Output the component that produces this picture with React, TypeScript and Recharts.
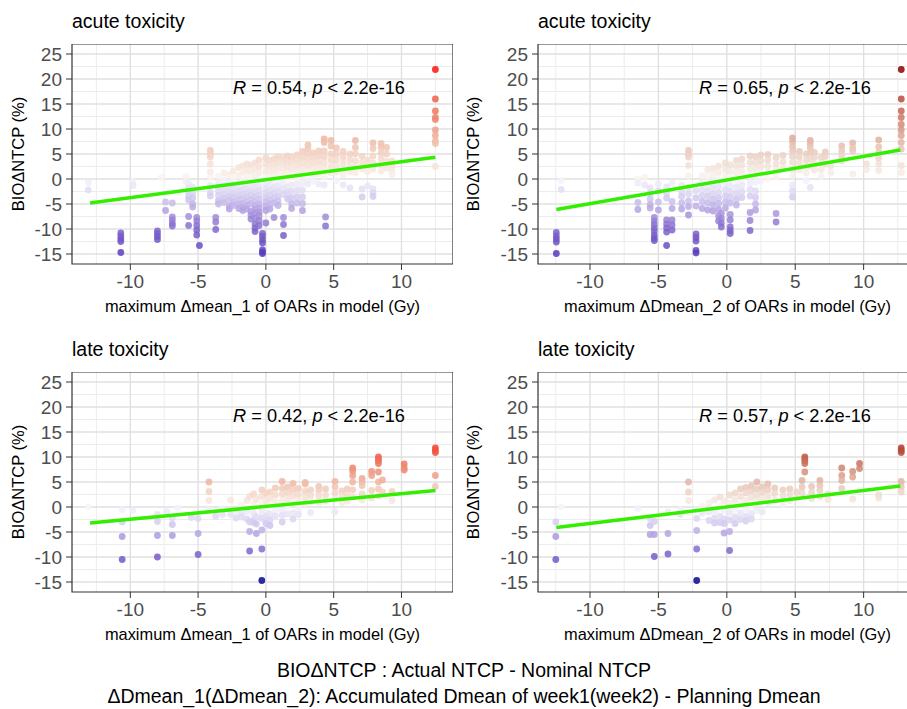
import React from "react";
import { ScatterChart, Scatter, XAxis, YAxis, CartesianGrid, ReferenceArea } from "recharts";

// each column: [x, list of y values at that x]
type Col = [number, number[]];

const X_TICKS = [-10, -5, 0, 5, 10];
const X_MINOR = [-12.5, -7.5, -2.5, 2.5, 7.5, 12.5];
const Y_TICKS = [-15, -10, -5, 0, 5, 10, 15, 20, 25];
const Y_MINOR = [-12.5, -7.5, -2.5, 2.5, 7.5, 12.5, 17.5, 22.5];
const Y_DOMAIN: [number, number] = [-17, 27];

const ACUTE_1: Col[] = [
  [-13.1, [-0.7, -2.2]],
  [-10.7, [-10.8, -11.4, -12.0, -12.5, -14.7]],
  [-9.8, [-0.5, -1.3]],
  [-8.0, [-10.4, -10.9, -11.5, -12.1]],
  [-7.7, [0.3]],
  [-7.4, [-4.6, -6.3]],
  [-6.9, [-4.8, -7.6, -8.2, -8.9, -9.4]],
  [-5.9, [0.5, -0.5]],
  [-5.7, [-1.0, -1.8, -2.6, -3.4, -4.2, -7.5, -9.3]],
  [-5.4, [-1.6, -2.8, -3.8, -5.0, -5.6]],
  [-5.1, [-7.7, -8.4, -9.3, -10.2, -11.2]],
  [-4.9, [-13.3]],
  [-4.1, [5.7, 5.0, 4.4, 3.0, 1.4, 0.3, -1.3, -2.7, -3.4]],
  [-3.7, [-7.7, -8.6, -10.1]],
  [-3.5, [0.5, -0.8, -1.6, -2.4, -3.3, -4.4, -5.0]],
  [-3.1, [1.2, -0.3, -1.4, -2.2, -3.0, -3.9, -4.7]],
  [-2.7, [0.9, -0.6, -1.8, -2.6, -3.5, -4.3, -5.5, -6.0]],
  [-2.4, [1.6, 0.2, -1.2, -2.0, -2.9, -3.7, -4.6, -5.3]],
  [-2.0, [2.3, 0.7, -0.8, -1.7, -2.5, -3.4, -4.2, -5.0, -5.9]],
  [-1.7, [2.6, 1.4, -0.4, -1.3, -2.2, -3.1, -4.0, -4.9, -5.7, -6.3]],
  [-1.4, [3.0, 1.8, 0.5, -1.0, -1.9, -2.8, -3.6, -4.5, -5.3, -6.0]],
  [-1.1, [2.8, 1.5, 0.2, -1.3, -2.4, -3.2, -4.1, -5.0, -6.5, -7.2, -8.0]],
  [-0.8, [3.2, 2.0, 0.8, -0.6, -1.7, -2.6, -3.5, -4.4, -5.3, -6.1, -6.8, -7.8, -9.0, -9.8, -10.5]],
  [-0.5, [3.8, 2.5, 1.2, -0.2, -1.4, -2.3, -3.2, -4.1, -5.0, -5.8, -6.6, -7.3, -8.3, -9.3]],
  [-0.25, [-10.9, -11.5, -12.2, -12.8, -14.2, -14.6, -14.9]],
  [0.0, [4.2, 3.0, 1.6, 0.4, -0.9, -1.9, -2.8, -3.7, -4.6, -5.5, -6.3, -8.8]],
  [0.3, [3.7, 2.6, 1.3, 0.0, -1.2, -2.2, -3.2, -4.2, -5.0, -6.0]],
  [0.6, [4.0, 2.9, 1.8, 0.6, -0.6, -1.8, -2.8, -3.8, -4.8, -7.7]],
  [0.9, [4.4, 3.3, 2.1, 0.9, -0.4, -1.5, -2.5, -3.5, -4.4, -5.3]],
  [1.3, [4.2, 3.1, 2.0, 0.8, -0.8, -2.0, -3.1, -7.7, -9.1, -11.3]],
  [1.6, [4.6, 3.5, 2.4, 1.2, 0.0, -1.6, -2.8, -4.0]],
  [1.9, [4.3, 3.2, 2.0, 0.5, -1.2, -2.5, -3.8, -5.0, -5.9]],
  [2.3, [4.8, 3.7, 2.6, 1.4, 0.2, -1.0, -2.3, -3.6, -4.8]],
  [2.7, [5.5, 4.3, 3.1, 1.9, 0.6, -0.8, -2.2, -3.6, -4.9, -6.3]],
  [3.1, [6.8, 6.0, 4.9, 3.8, 2.6, 1.3, -0.2, -1.0]],
  [3.5, [5.2, 4.2, 3.1, 2.0, 0.8, -0.4]],
  [3.9, [5.6, 4.6, 3.4, 2.2, 1.0, -1.0]],
  [4.3, [8.0, 7.3, 5.6, 4.4, 3.2, 1.9, 0.4, -1.2]],
  [4.4, [-7.6, -9.4]],
  [4.8, [7.7, 6.6, 5.0, 3.8, 2.5, 1.2]],
  [5.2, [6.2, 5.0, 3.8, 2.6, 1.4, -0.3]],
  [5.7, [5.5, 4.4, 3.2, 2.0, 0.8, -1.2]],
  [6.2, [5.0, 3.8, 2.6, 1.4, -1.8]],
  [6.6, [7.7, 6.3, 5.0, 3.6, 2.4, 1.3]],
  [7.1, [4.5, 3.2, 2.0, -2.0, -3.6]],
  [7.5, [3.8, 2.6, 1.5, -1.4]],
  [7.9, [7.2, 6.1, 4.6, 3.2, 2.0, -2.0, -2.8, -3.5]],
  [8.5, [7.1, 6.3, 5.2, 4.0, 2.8, 1.6]],
  [8.9, [6.3, 5.0, 3.5, 2.2]],
  [9.3, [3.6, 2.6, 1.6, 0.9]],
  [12.5, [21.9, 16.0, 13.6, 12.3, 11.9, 9.8, 8.7, 7.6, 7.1, 2.5]],
];

const ACUTE_2: Col[] = [
  [-12.46, [-10.7, -11.4, -12.0, -12.6, -14.9]],
  [-12.1, [-0.3, -2.1]],
  [-6.5, [0.0, -0.8, -4.7, -6.1]],
  [-6.0, [0.3, -1.2]],
  [-5.6, [-1.8, -2.9, -4.0, -5.1, -5.8]],
  [-5.3, [-7.7, -8.4, -9.1, -9.8, -10.4, -11.2, -11.8, -12.3]],
  [-5.0, [-1.0, -2.4, -4.6, -6.2]],
  [-4.4, [-1.6, -2.8, -3.8, -8.2, -9.0, -9.8, -10.6, -13.3]],
  [-4.0, [-0.8, -4.5, -5.9, -8.2, -9.2, -10.2]],
  [-3.3, [-1.3, -2.6, -3.5, -4.8, -6.0]],
  [-2.8, [5.7, 5.0, 4.4, 2.7, 0.6, -1.8, -3.0, -4.4, -5.5, -7.2]],
  [-2.25, [-2.4, -3.8, -5.4, -11.0, -11.7, -12.4, -14.3, -14.8]],
  [-1.8, [0.6, -0.9, -2.1, -3.3, -4.5, -5.9]],
  [-1.4, [1.8, 0.4, -1.2, -2.4, -3.5, -4.8, -6.2]],
  [-1.0, [2.1, 0.8, -0.5, -1.8, -3.0, -4.1, -5.2, -6.4]],
  [-0.6, [2.6, 1.3, -0.1, -1.5, -2.7, -3.8, -4.9, -6.1, -7.4, -8.4]],
  [-0.4, [-6.9, -7.9, -8.8, -9.6]],
  [-0.1, [3.2, 1.9, 0.5, -0.9, -2.2, -3.4, -4.6, -5.8]],
  [0.25, [2.8, 1.5, 0.1, -1.3, -2.5, -3.6, -4.8, -7.1, -8.2, -9.6, -10.3, -10.9]],
  [0.7, [3.7, 2.5, 1.2, -0.2, -1.6, -2.9, -4.1, -5.2]],
  [1.1, [4.0, 2.8, 1.5, 0.2, -1.2, -2.5, -3.7]],
  [1.7, [4.6, 3.3, 2.0, 0.7, -0.8, -2.1, -3.4, -6.7, -8.3, -10.3]],
  [2.1, [4.4, 3.2, 2.0, 0.8, -0.6, -2.4, -3.7, -5.0, -6.2]],
  [2.5, [4.8, 3.6, 2.4, 1.1, -0.4]],
  [3.0, [4.9, 3.8, 2.6, 1.4, 0.1]],
  [3.6, [4.3, 3.0, 1.8, 0.4, -6.9, -8.6]],
  [4.1, [4.7, 3.4, 2.1]],
  [4.8, [8.2, 7.5, 6.5, 5.6, 4.5, 3.3, 2.0, 0.7, -1.2, -2.4, -3.6]],
  [5.3, [5.5, 4.4, 3.2, 1.9]],
  [5.8, [5.0, 3.8, 2.5, 1.2, -0.3]],
  [6.1, [7.7, 7.0, 6.2, 5.2, 4.0, 2.6, -1.7]],
  [6.4, [5.3, 4.3, 3.0, 1.8]],
  [6.9, [4.3, 3.2, 1.9, 0.5]],
  [7.2, [5.4, 4.5, 3.0]],
  [7.6, [2.6, 1.2]],
  [8.4, [6.6, 5.6, 4.6, 3.6]],
  [9.2, [7.2, 6.2, 5.6, 1.0]],
  [10.2, [3.0, 1.9]],
  [11.1, [7.8, 6.4, 5.3, 4.2, 3.0, 1.7]],
  [12.75, [21.9, 16.0, 13.6, 12.3, 10.9, 9.8, 8.7, 7.3, 6.0, 2.7, 1.3]],
];

const LATE_1: Col[] = [
  [-13.1, [0.0]],
  [-10.6, [-0.5, -3.0, -5.9, -10.5]],
  [-9.8, [-0.7]],
  [-8.0, [-1.5, -2.9, -5.7, -10.0]],
  [-7.3, [-1.0]],
  [-6.9, [-2.2, -3.5, -5.7]],
  [-6.5, [-0.2]],
  [-5.5, [-1.8, -2.1]],
  [-5.0, [-2.3, -5.3, -9.5]],
  [-4.2, [5.0, 3.1, 1.3, -0.6]],
  [-3.7, [-1.7, -1.9]],
  [-3.2, [-1.5, -0.4]],
  [-2.6, [1.4, -1.5]],
  [-2.2, [-0.8, -2.2]],
  [-1.8, [0.4, -1.4, -2.0]],
  [-1.4, [1.3, -0.9, -2.4]],
  [-1.2, [2.1, -3.0, -4.9, -8.8]],
  [-0.9, [2.6, 0.7, -1.3, -2.6, -3.1]],
  [-0.7, [1.6, -2.0, -3.4, -5.3]],
  [-0.3, [3.4, 2.1, 0.6, -1.0, -2.3, -4.6, -8.4, -14.7]],
  [0.0, [2.8, 1.2, -0.5, -1.9, -3.3]],
  [0.3, [3.0, 1.7, 0.2, -1.4, -2.6, -3.7]],
  [0.7, [3.8, 2.4, 1.0, -0.6, -1.8]],
  [1.2, [5.1, 3.7, 2.5, 1.1, -0.8, -1.7, -3.0]],
  [1.6, [4.0, 2.9, 1.6, 0.1, -1.4]],
  [2.0, [4.7, 3.4, 2.2, 0.8, -1.2, -2.4]],
  [2.4, [3.7, 2.5, 1.3, -0.4, -1.5]],
  [2.9, [4.9, 4.6, 3.1, 1.9, 0.6]],
  [3.3, [3.4, 2.3, 1.0, -1.1]],
  [3.9, [4.1, 3.3, 2.2, 0.9]],
  [4.4, [3.6, 2.4, 1.2]],
  [5.1, [5.1, 4.0, 2.8, 1.6, -1.0]],
  [5.6, [3.2, 2.1, 0.8]],
  [6.0, [3.6, 2.4, 1.2]],
  [6.4, [7.8, 7.2, 6.3, 5.0, 3.4, 2.0]],
  [7.1, [5.7, 5.0, 4.3, 2.6, 1.4]],
  [7.8, [7.1, 6.3, 3.3, 1.8]],
  [8.3, [10.0, 9.6, 9.2, 8.7, 7.0, 5.0, 3.6, 2.2]],
  [8.6, [5.4, 3.0]],
  [9.3, [3.1, 1.3]],
  [10.2, [8.6, 7.8, 7.4]],
  [12.5, [11.8, 11.3, 10.9, 6.3, 4.1]],
];

const LATE_2: Col[] = [
  [-12.5, [-3.0, -5.9, -10.5]],
  [-12.1, [0.0]],
  [-6.5, [-0.3]],
  [-5.6, [-2.3, -3.7, -5.5]],
  [-5.3, [-2.9, -5.5, -9.9]],
  [-4.3, [-1.0, -5.3, -9.4]],
  [-3.4, [-0.5, -1.5]],
  [-2.8, [5.0, 3.0, 1.3]],
  [-2.2, [-0.6, -2.3, -4.7, -8.4, -14.7]],
  [-1.8, [0.2, -1.2]],
  [-1.3, [0.8, -1.0, -2.7]],
  [-0.9, [1.4, -0.8, -2.2, -3.2]],
  [-0.5, [2.0, 0.2, -1.8, -3.1]],
  [-0.2, [1.3, -0.6, -2.4, -3.3, -5.2]],
  [0.2, [2.4, 0.8, -1.1, -2.6, -4.9, -8.7]],
  [0.6, [2.8, 1.4, -0.4, -2.0, -3.3]],
  [1.0, [3.6, 2.1, 0.6, -1.2, -2.5]],
  [1.4, [3.9, 2.8, 1.3, -0.5, -1.9, -2.8]],
  [1.8, [4.2, 3.2, 1.9, 0.4, -1.3, -2.4]],
  [2.2, [5.0, 3.6, 2.3, 1.0, -0.7]],
  [2.6, [4.0, 2.9, 1.5, -1.0]],
  [3.0, [4.6, 3.4, 2.1, 0.9]],
  [3.5, [3.8, 2.7, 1.4]],
  [4.1, [3.4, 2.2, 0.5]],
  [4.6, [3.6, 2.5, 1.3]],
  [5.1, [3.0, 1.8]],
  [5.5, [5.3, 4.0, 2.8]],
  [5.7, [10.0, 9.6, 9.2, 8.7, 7.0]],
  [6.2, [4.1, 2.9, 1.7]],
  [6.8, [5.3, 4.3, 3.3, 2.1]],
  [7.4, [2.6, 1.5]],
  [8.4, [7.8, 6.3, 5.3, 3.7]],
  [9.2, [7.1, 6.0, 1.6]],
  [9.7, [8.7, 7.7]],
  [11.1, [2.4, 1.8]],
  [12.75, [11.8, 11.3, 10.9, 5.1, 4.0, 3.0]],
];

// fitted line end points [x, y]
const ACUTE_1_FIT = [[-12.97, -4.8], [12.5, 4.33]];
const ACUTE_2_FIT = [[-12.46, -6.1], [12.68, 5.8]];
const LATE_1_FIT = [[-12.97, -3.2], [12.5, 3.3]];
const LATE_2_FIT = [[-12.46, -4.1], [12.68, 4.2]];

const R_VALUES = ["0.54", "0.65", "0.42", "0.57"];

const NEG_STOPS: [number, number[]][] = [
  [0, [246, 244, 251]],
  [0.12, [228, 223, 244]],
  [0.25, [206, 196, 237]],
  [0.4, [172, 152, 222]],
  [0.6, [128, 102, 204]],
  [0.85, [100, 72, 192]],
  [1, [8, 8, 145]],
];
const RED_STOPS: [number, number[]][] = [
  [0, [250, 244, 240]],
  [0.15, [245, 222, 210]],
  [0.3, [240, 196, 178]],
  [0.45, [236, 160, 136]],
  [0.65, [238, 112, 90]],
  [0.8, [242, 80, 60]],
  [1, [255, 20, 10]],
];
const DARKRED_STOPS: [number, number[]][] = [
  [0, [250, 244, 240]],
  [0.15, [240, 222, 212]],
  [0.3, [230, 192, 176]],
  [0.45, [215, 150, 130]],
  [0.65, [195, 95, 75]],
  [0.8, [175, 60, 45]],
  [1, [140, 0, 0]],
];

function interp(stops: [number, number[]][], t: number) {
  const tt = Math.max(0, Math.min(1, t));
  for (let i = 1; i < stops.length; i++) {
    const [t1, c1] = stops[i];
    const [t0, c0] = stops[i - 1];
    if (tt <= t1) {
      const f = (tt - t0) / (t1 - t0);
      const c = c0.map((v, k) => Math.round(v + (c1[k] - v) * f));
      return `rgb(${c[0]},${c[1]},${c[2]})`;
    }
  }
  const c = stops[stops.length - 1][1];
  return `rgb(${c[0]},${c[1]},${c[2]})`;
}

const FONT = '"Liberation Sans", Arial, Helvetica, sans-serif';
const PLOT_H = 220;
const AXIS_H = 56;

const PANELS = [
  { cols: ACUTE_1, fit: ACUTE_1_FIT, r: R_VALUES[0], title: "acute toxicity", xLabel: "maximum \u0394mean_1 of OARs in model (Gy)",
    left: 0, top: 44, yW: 72, plotW: 381, xDomain: [-14.3, 13.8], lowMin: -17, highMax: 22, hi: RED_STOPS },
  { cols: ACUTE_2, fit: ACUTE_2_FIT, r: R_VALUES[1], title: "acute toxicity", xLabel: "maximum \u0394Dmean_2 of OARs in model (Gy)",
    left: 455, top: 44, yW: 83, plotW: 379, xDomain: [-13.8, 13.9], lowMin: -17, highMax: 22, hi: DARKRED_STOPS },
  { cols: LATE_1, fit: LATE_1_FIT, r: R_VALUES[2], title: "late toxicity", xLabel: "maximum \u0394mean_1 of OARs in model (Gy)",
    left: 0, top: 372, yW: 72, plotW: 381, xDomain: [-14.3, 13.8], lowMin: -14.7, highMax: 14, hi: RED_STOPS },
  { cols: LATE_2, fit: LATE_2_FIT, r: R_VALUES[3], title: "late toxicity", xLabel: "maximum \u0394Dmean_2 of OARs in model (Gy)",
    left: 455, top: 372, yW: 83, plotW: 379, xDomain: [-13.8, 13.9], lowMin: -14.7, highMax: 15, hi: DARKRED_STOPS },
];

function Panel({ p }: { p: (typeof PANELS)[number] }) {
  const pts = p.cols.flatMap(([x, ys]) => ys.map((y) => ({ x, y })));
  const fit = p.fit.map(([x, y]) => ({ x, y }));
  const plotL = p.left + p.yW;
  const plotCx = plotL + p.plotW / 2;
  const plotCy = p.top + PLOT_H / 2;
  const color = (v: number) => (v < 0 ? interp(NEG_STOPS, v / p.lowMin) : interp(p.hi, v / p.highMax));
  const tickStyle = { fontSize: 19, fill: "#4d4d4d" };

  return (
    <>
      <div style={{ position: "absolute", left: plotL, top: p.top - 32.5, fontSize: 19.5, lineHeight: 1, whiteSpace: "nowrap" }}>
        {p.title}
      </div>
      <div
        style={{
          position: "absolute",
          left: p.left + 18,
          top: plotCy,
          fontSize: 16.5,
          lineHeight: 1,
          whiteSpace: "nowrap",
          transform: "translate(-50%, -50%) rotate(-90deg)",
        }}
      >
        BIOΔNTCP (%)
      </div>
      <div style={{ position: "absolute", left: p.left, top: p.top }}>
        <ScatterChart width={p.yW + p.plotW} height={PLOT_H + AXIS_H} margin={{ top: 0, right: 0, bottom: 0, left: 0 }}>
          <CartesianGrid horizontalValues={Y_MINOR} verticalValues={X_MINOR} stroke="#ececec" strokeWidth={1} />
          <CartesianGrid horizontalValues={Y_TICKS} verticalValues={X_TICKS} stroke="#e0e0e0" strokeWidth={1.4} />
          <XAxis
            type="number"
            dataKey="x"
            domain={p.xDomain}
            ticks={X_TICKS}
            interval={0}
            allowDataOverflow
            height={AXIS_H}
            tickSize={6}
            tickMargin={5}
            axisLine={false}
            tickLine={{ stroke: "#333333" }}
            tick={tickStyle}
          />
          <YAxis
            type="number"
            dataKey="y"
            domain={Y_DOMAIN}
            ticks={Y_TICKS}
            interval={0}
            allowDataOverflow
            width={p.yW}
            tickSize={6}
            tickMargin={4}
            axisLine={false}
            tickLine={{ stroke: "#333333" }}
            tick={tickStyle}
          />
          <ReferenceArea
            x1={p.xDomain[0]}
            x2={p.xDomain[1]}
            y1={Y_DOMAIN[0]}
            y2={Y_DOMAIN[1]}
            fill="none"
            stroke="#333333"
            strokeWidth={1.2}
            fillOpacity={0}
          />
          <Scatter
            data={pts}
            isAnimationActive={false}
            shape={(s: any) => (
              <circle cx={s.cx} cy={s.cy} r={3.4} fill={color(s.payload.y)} fillOpacity={0.85} />
            )}
          />
          <Scatter
            data={fit}
            isAnimationActive={false}
            line={{ stroke: "#33ee00", strokeWidth: 3.5 }}
            shape={() => <g />}
          />
        </ScatterChart>
      </div>
      <div
        style={{
          position: "absolute",
          left: plotCx - 250,
          width: 500,
          top: p.top + 253.8,
          textAlign: "center",
          fontSize: 16.4,
          lineHeight: 1,
          whiteSpace: "nowrap",
        }}
      >
        {p.xLabel}
      </div>
      <div
        style={{
          position: "absolute",
          left: plotL + 161,
          top: p.top + 34.6,
          fontSize: 18.2,
          lineHeight: 1,
          whiteSpace: "nowrap",
        }}
      >
        <i>R</i> = {p.r}, <i>p</i> &lt; 2.2e-16
      </div>
    </>
  );
}

const captionStyle: React.CSSProperties = {
  position: "absolute",
  left: 464 - 450,
  width: 900,
  textAlign: "center",
  fontSize: 19.5,
  lineHeight: 1,
  whiteSpace: "nowrap",
};

export default function App() {
  return (
    <div
      style={{
        position: "absolute",
        left: 0,
        top: 0,
        width: 907,
        height: 709,
        overflow: "hidden",
        background: "#ffffff",
        color: "#000000",
        fontFamily: FONT,
      }}
    >
      {PANELS.map((p, i) => (
        <Panel key={i} p={p} />
      ))}
      <div style={{ ...captionStyle, top: 661 }}>BIOΔNTCP : Actual NTCP - Nominal NTCP</div>
      <div style={{ ...captionStyle, top: 687 }}>
        ΔDmean_1(ΔDmean_2): Accumulated Dmean of week1(week2) - Planning Dmean
      </div>
    </div>
  );
}
